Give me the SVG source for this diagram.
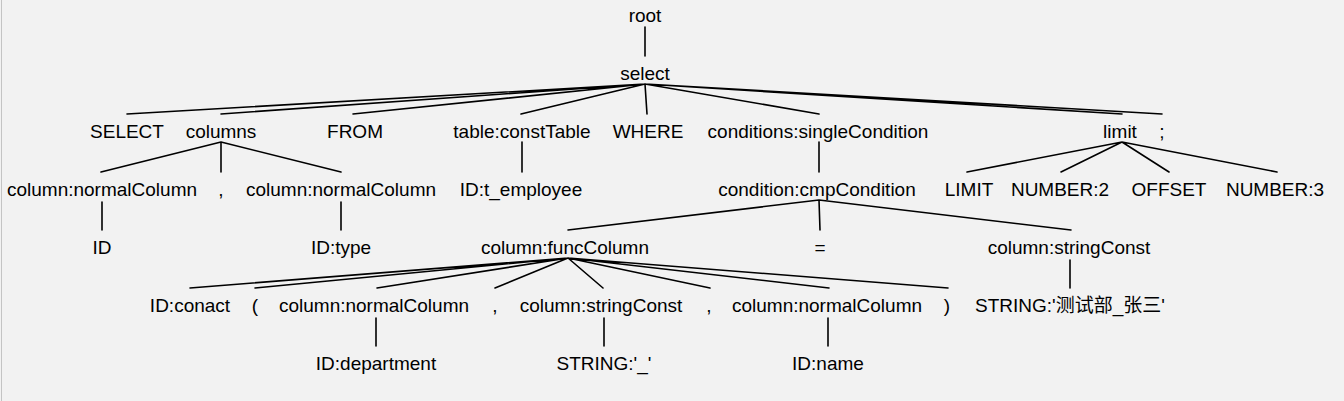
<svg xmlns="http://www.w3.org/2000/svg" width="1344" height="401" viewBox="0 0 1344 401">
<style>
text{font-family:"Liberation Sans","Noto Sans CJK SC",Arial,sans-serif;font-size:19px;fill:#000;text-anchor:middle}
.e{stroke:#000;stroke-width:1.6;fill:none;stroke-linecap:round}
</style>
<rect x="0" y="0" width="1344" height="401" fill="#f2f2f2"/>
<line x1="1.5" y1="0" x2="1.5" y2="401" stroke="#c4c4c4" stroke-width="1"/>
<g id="connectors" class="e">
<path d="M645,27V56"/>
<path d="M645,84L127,114M645,84L221,114M645,84L353,114M645,84L521,114M645,84L647,114M645,84L819,114M645,84L1122,114M645,84L1162,114"/>
<path d="M221,142L101,172M221,142L221,172M221,142L341,172"/>
<path d="M522,142V172"/>
<path d="M819,142V172"/>
<path d="M1122,142L967,172M1122,142L1061,172M1122,142L1169,172M1122,142L1277,172"/>
<path d="M102,202V230M341,202V230"/>
<path d="M819,200L568,230M819,200L820,230M819,200L1071,230"/>
<path d="M568,258L190,288M568,258L255,288M568,258L377,288M568,258L495,288M568,258L603,288M568,258L710,288M568,258L829,288M568,258L948,288"/>
<path d="M1070,260V288"/>
<path d="M376,318V346M604,318V346M828,318V346"/>
</g>
<g id="n_root"><text x="645" y="22">root</text></g>
<g id="n_select"><text x="645" y="80">select</text></g>
<g id="n_SELECT"><text x="127" y="138">SELECT</text></g>
<g id="n_columns"><text x="221" y="138">columns</text></g>
<g id="n_FROM"><text x="355" y="138">FROM</text></g>
<g id="n_table"><text x="522" y="138">table:constTable</text></g>
<g id="n_WHERE"><text x="648" y="138">WHERE</text></g>
<g id="n_conditions"><text x="818" y="138">conditions:singleCondition</text></g>
<g id="n_limit"><text x="1120" y="138">limit</text></g>
<g id="n_semicolon"><text x="1162" y="138">;</text></g>
<g id="n_col1"><text x="102" y="196">column:normalColumn</text></g>
<g id="n_comma1"><text x="221" y="196">,</text></g>
<g id="n_col2"><text x="341" y="196">column:normalColumn</text></g>
<g id="n_tid"><text x="521" y="196">ID:t_employee</text></g>
<g id="n_cmp"><text x="817" y="196">condition:cmpCondition</text></g>
<g id="n_LIMIT"><text x="969" y="196">LIMIT</text></g>
<g id="n_num2"><text x="1060" y="196">NUMBER:2</text></g>
<g id="n_OFFSET"><text x="1169" y="196">OFFSET</text></g>
<g id="n_num3"><text x="1275" y="196">NUMBER:3</text></g>
<g id="n_id"><text x="102" y="254">ID</text></g>
<g id="n_idtype"><text x="341" y="254">ID:type</text></g>
<g id="n_func"><text x="565" y="254">column:funcColumn</text></g>
<g id="n_eq"><text x="820" y="254">=</text></g>
<g id="n_strc"><text x="1069" y="254">column:stringConst</text></g>
<g id="n_conact"><text x="190" y="312">ID:conact</text></g>
<g id="n_lparen"><text x="255" y="312">(</text></g>
<g id="n_col3"><text x="374" y="312">column:normalColumn</text></g>
<g id="n_comma2"><text x="495" y="312">,</text></g>
<g id="n_strc2"><text x="601" y="312">column:stringConst</text></g>
<g id="n_comma3"><text x="709" y="312">,</text></g>
<g id="n_col4"><text x="827" y="312">column:normalColumn</text></g>
<g id="n_rparen"><text x="947" y="312">)</text></g>
<g id="n_str1"><text x="1070" y="312">STRING:'测试部_张三'</text></g>
<g id="n_dept"><text x="376" y="370">ID:department</text></g>
<g id="n_under"><text x="604" y="370">STRING:'_'</text></g>
<g id="n_name"><text x="828" y="370">ID:name</text></g>
</svg>
